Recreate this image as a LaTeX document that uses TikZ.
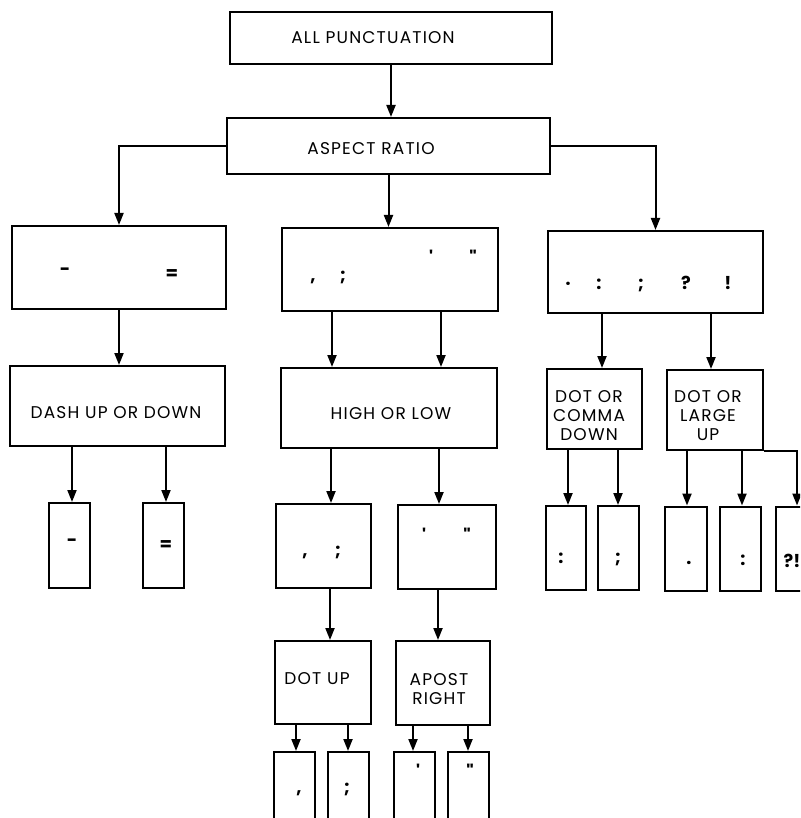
\documentclass[tikz,border=0pt]{standalone}
\usepackage{fontspec}
\newfontfamily\lbl[LetterSpace=7]{Poppins}
\newfontfamily\pnc{Poppins}
\usetikzlibrary{arrows.meta}
\begin{document}
\begin{tikzpicture}[x=1pt,y=-1pt,
 box/.style={draw, line width=2pt, inner sep=0pt},
 lab/.style={font=\lbl\fontsize{17}{19}\selectfont, align=center, inner sep=0pt},
 pun/.style={font=\pnc\bfseries\fontsize{18}{20}\selectfont, anchor=base, inner sep=0pt},
 arr/.style={line width=2pt, -{Triangle[length=12pt,width=9pt]}},
 ln/.style={line width=2pt}]
\useasboundingbox (0,0) rectangle (800,818);
\clip (0,0) rectangle (800,818);
% boxes
\node[box, minimum width=322pt, minimum height=52pt] (top) at (391,38) {};
\node[box, minimum width=323pt, minimum height=56pt] (aspect) at (388.5,146) {};
\node[box, minimum width=214pt, minimum height=83pt] (L1) at (119,267.5) {};
\node[box, minimum width=216pt, minimum height=83pt] (M1) at (390,269.5) {};
\node[box, minimum width=215pt, minimum height=82pt] (R1) at (655.5,272) {};
\node[box, minimum width=215pt, minimum height=80pt] (dash) at (117.5,406) {};
\node[box, minimum width=216pt, minimum height=80pt] (high) at (389,408) {};
\node[box, minimum width=95pt, minimum height=80pt] (doc) at (594.5,409) {};
\node[box, minimum width=96pt, minimum height=80pt] (dol) at (715,410) {};
\node[box, minimum width=41pt, minimum height=85pt] (d1) at (69.5,545.5) {};
\node[box, minimum width=41pt, minimum height=85pt] (d2) at (163.5,545.5) {};
\node[box, minimum width=95pt, minimum height=84pt] (hl1) at (323.5,546) {};
\node[box, minimum width=98pt, minimum height=84pt] (hl2) at (447,547) {};
\node[box, minimum width=96pt, minimum height=83pt] (dotup) at (323,682.5) {};
\node[box, minimum width=94pt, minimum height=84pt] (apost) at (443,683) {};
\node[box, minimum width=41pt, minimum height=85pt] (b1) at (294.5,794.5) {};
\node[box, minimum width=41pt, minimum height=85pt] (b2) at (348.5,794.5) {};
\node[box, minimum width=41pt, minimum height=85pt] (b3) at (414.5,794.5) {};
\node[box, minimum width=41pt, minimum height=85pt] (b4) at (468.5,794.5) {};
\node[box, minimum width=40pt, minimum height=84pt] (r1) at (566,548) {};
\node[box, minimum width=41pt, minimum height=84pt] (r2) at (618.5,548) {};
\node[box, minimum width=42pt, minimum height=84pt] (r3) at (686,548.5) {};
\node[box, minimum width=41pt, minimum height=84pt] (r4) at (740.5,548.5) {};
\node[box, minimum width=42pt, minimum height=84pt] (r5) at (797,548.5) {};
% labels
\node[lab] (tTop) at (373,38) {ALL PUNCTUATION};
\node[lab] (tAsp) at (371,149) {ASPECT RATIO};
\node[lab] (tDash) at (116,413) {DASH UP OR DOWN};
\node[lab] (tHigh) at (391,414) {HIGH OR LOW};
\node[lab] (tDoc) at (589,416) {DOT OR\\COMMA\\DOWN};
\node[lab] (tDol) at (708,416) {DOT OR\\LARGE\\UP};
\node[lab] (tDotup) at (317,679) {DOT UP};
\node[lab] (tApost) at (439,689) {APOST\\RIGHT};
% punctuation
\node[pun] (pL1a) at (65,275) {-};
\node[pun] (pL1b) at (172,279) {=};
\node[pun] (pM1a) at (313,281) {,};
\node[pun] (pM1b) at (343,281) {;};
\node[pun] (pM1c) at (431,264) {'};
\node[pun] (pM1d) at (473,264) {"};
\node[pun] (pR1a) at (568,289) {·};
\node[pun] (pR1b) at (599,289) {:};
\node[pun] (pR1c) at (641,289) {;};
\node[pun] (pR1d) at (686,289) {?};
\node[pun] (pR1e) at (728,289) {!};
\node[pun] (pd1) at (72,546) {-};
\node[pun] (pd2) at (166,550) {=};
\node[pun] (phl1a) at (305,556) {,};
\node[pun] (phl1b) at (338,556) {;};
\node[pun] (phl2a) at (424,542) {'};
\node[pun] (phl2b) at (467,542) {"};
\node[pun] (pb1) at (299,793) {,};
\node[pun] (pb2) at (347,793) {;};
\node[pun] (pb3) at (418,778) {'};
\node[pun] (pb4) at (470,778) {"};
\node[pun] (pr1) at (561,563) {:};
\node[pun] (pr2) at (618,563) {;};
\node[pun] (pr3) at (689,564) {.};
\node[pun] (pr4) at (743,565) {:};
\node[pun] (pr5) at (792,567) {?!};
% connectors
\draw[arr] (top.south) -- (top.south |- aspect.north);
\draw[arr] (aspect.west) -| (L1.north);
\draw[arr] (aspect.east) -| (R1.north);
\draw[arr] (aspect.south) -- (aspect.south |- M1.north);
\draw[arr] (L1.south) -- (L1.south |- dash.north);
\draw[arr] (332,0 |- M1.south) -- (332,0 |- high.north);
\draw[arr] (441,0 |- M1.south) -- (441,0 |- high.north);
\draw[arr] (602,0 |- R1.south) -- (602,0 |- doc.north);
\draw[arr] (711,0 |- R1.south) -- (711,0 |- dol.north);
\draw[arr] (72,0 |- dash.south) -- (72,0 |- d1.north);
\draw[arr] (166,0 |- dash.south) -- (166,0 |- d2.north);
\draw[arr] (331,0 |- high.south) -- (331,0 |- hl1.north);
\draw[arr] (439,0 |- high.south) -- (439,0 |- hl2.north);
\draw[arr] (330,0 |- hl1.south) -- (330,0 |- dotup.north);
\draw[arr] (438,0 |- hl2.south) -- (438,0 |- apost.north);
\draw[arr] (568,0 |- doc.south) -- (568,0 |- r1.north);
\draw[arr] (618,0 |- doc.south) -- (618,0 |- r2.north);
\draw[arr] (687,0 |- dol.south) -- (687,0 |- r3.north);
\draw[arr] (742,0 |- dol.south) -- (742,0 |- r4.north);
\draw[arr] (dol.south east) -| (r5.north);
\draw[arr] (296,0 |- dotup.south) -- (296,0 |- b1.north);
\draw[arr] (348,0 |- dotup.south) -- (348,0 |- b2.north);
\draw[arr] (413,0 |- apost.south) -- (413,0 |- b3.north);
\draw[arr] (468,0 |- apost.south) -- (468,0 |- b4.north);
\end{tikzpicture}
\end{document}
